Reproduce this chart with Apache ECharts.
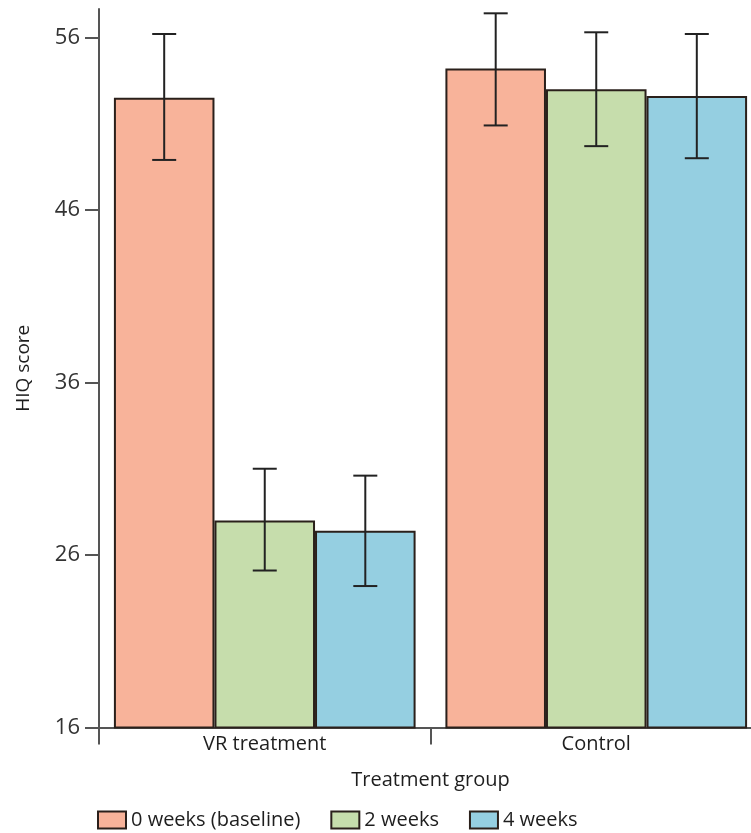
<!DOCTYPE html>
<html>
<head>
<meta charset="utf-8">
<script src="https://cdn.jsdelivr.net/npm/echarts@6/dist/echarts.min.js"></script>
<style>
  html, body { margin: 0; padding: 0; background: #fff; }
  #chart { width: 751px; height: 833px; }
</style>
</head>
<body>
<div id="chart"></div>
<script>
// categories and tick labels
const groups = ['VR treatment', 'Control'];
const yTicks = [16, 26, 36, 46, 56];

// mean HIQ score per group
const week0 = [52.5, 54.2];
const week2 = [28.0, 53.0];
const week4 = [27.4, 52.6];

// error bar ends (low, high)
const week0Low = [48.9, 50.9];
const week0High = [56.2, 57.4];
const week2Low = [25.1, 49.7];
const week2High = [31.0, 56.3];
const week4Low = [24.2, 49.0];
const week4High = [30.6, 56.2];

const seriesNames = ['0 weeks (baseline)', '2 weeks', '4 weeks'];
const colors = ['#F8B39A', '#C6DDAC', '#95CFE1'];

const FONT = 'Open Sans';
const GAP = 0.09; // barCategoryGap

const errData = [];
[[week0Low, week0High], [week2Low, week2High], [week4Low, week4High]].forEach((pair, s) => {
  groups.forEach((g, i) => {
    errData.push([i, s, pair[0][i], pair[1][i]]);
  });
});

const chart = echarts.init(document.getElementById('chart'));

const barSeries = [week0, week2, week4].map((d, s) => ({
  name: seriesNames[s],
  type: 'bar',
  data: d,
  barGap: '0%',
  barCategoryGap: (GAP * 100) + '%',
  itemStyle: {
    color: colors[s],
    borderColor: '#2a201b',
    borderWidth: 2,
  },
  emphasis: { disabled: true },
}));

chart.setOption({
  animation: false,
  textStyle: { fontFamily: FONT },
  grid: { left: 99, width: 663, top: 9, bottom: 105.5, outerBoundsMode: 'none', containLabel: false },
  legend: {
    left: 97,
    top: 810,
    padding: 0,
    icon: 'rect',
    itemWidth: 28,
    itemHeight: 17,
    itemGap: 30,
    data: seriesNames,
    textStyle: { fontFamily: FONT, fontSize: 20, color: '#1e1e1e' },
  },
  xAxis: {
    type: 'category',
    data: groups,
    name: 'Treatment group',
    nameLocation: 'middle',
    nameGap: 43,
    nameTextStyle: { fontFamily: FONT, fontSize: 20, color: '#1e1e1e' },
    axisLine: { lineStyle: { color: '#555', width: 2 } },
    axisTick: { show: true, length: 17, lineStyle: { color: '#555', width: 2 } },
    axisLabel: { fontFamily: FONT, fontSize: 20, color: '#1e1e1e', margin: 7 },
  },
  yAxis: {
    type: 'value',
    min: 16,
    max: 57.65,
    name: 'HIQ score',
    nameLocation: 'middle',
    nameGap: 66,
    nameRotate: 90,
    nameTextStyle: { fontFamily: FONT, fontSize: 19, color: '#1e1e1e' },
    splitLine: { show: false },
    axisLine: { show: true, lineStyle: { color: '#555', width: 2 } },
    axisTick: { show: true, length: 14, customValues: yTicks, lineStyle: { color: '#555', width: 2 } },
    axisLabel: { customValues: yTicks, fontFamily: FONT, fontSize: 22, color: '#333', margin: 19 },
  },
  series: [
    ...barSeries,
    {
      type: 'custom',
      name: 'err',
      data: errData,
      encode: { x: 0, y: [2, 3] },
      z: 10,
      silent: true,
      renderItem: (params, api) => {
        const cat = api.value(0);
        const s = api.value(1);
        const band = api.size([1, 0])[0];
        const barW = band * (1 - GAP) / 3;
        const lo = api.coord([cat, api.value(2)]);
        const hi = api.coord([cat, api.value(3)]);
        const x = lo[0] + (s - 1) * barW;
        const cap = 12;
        const style = { stroke: '#222', lineWidth: 2 };
        return {
          type: 'group',
          children: [
            { type: 'line', shape: { x1: x, y1: lo[1], x2: x, y2: hi[1] }, style },
            { type: 'line', shape: { x1: x - cap, y1: lo[1], x2: x + cap, y2: lo[1] }, style },
            { type: 'line', shape: { x1: x - cap, y1: hi[1], x2: x + cap, y2: hi[1] }, style },
          ],
        };
      },
    },
  ],
});
</script>
</body>
</html>
